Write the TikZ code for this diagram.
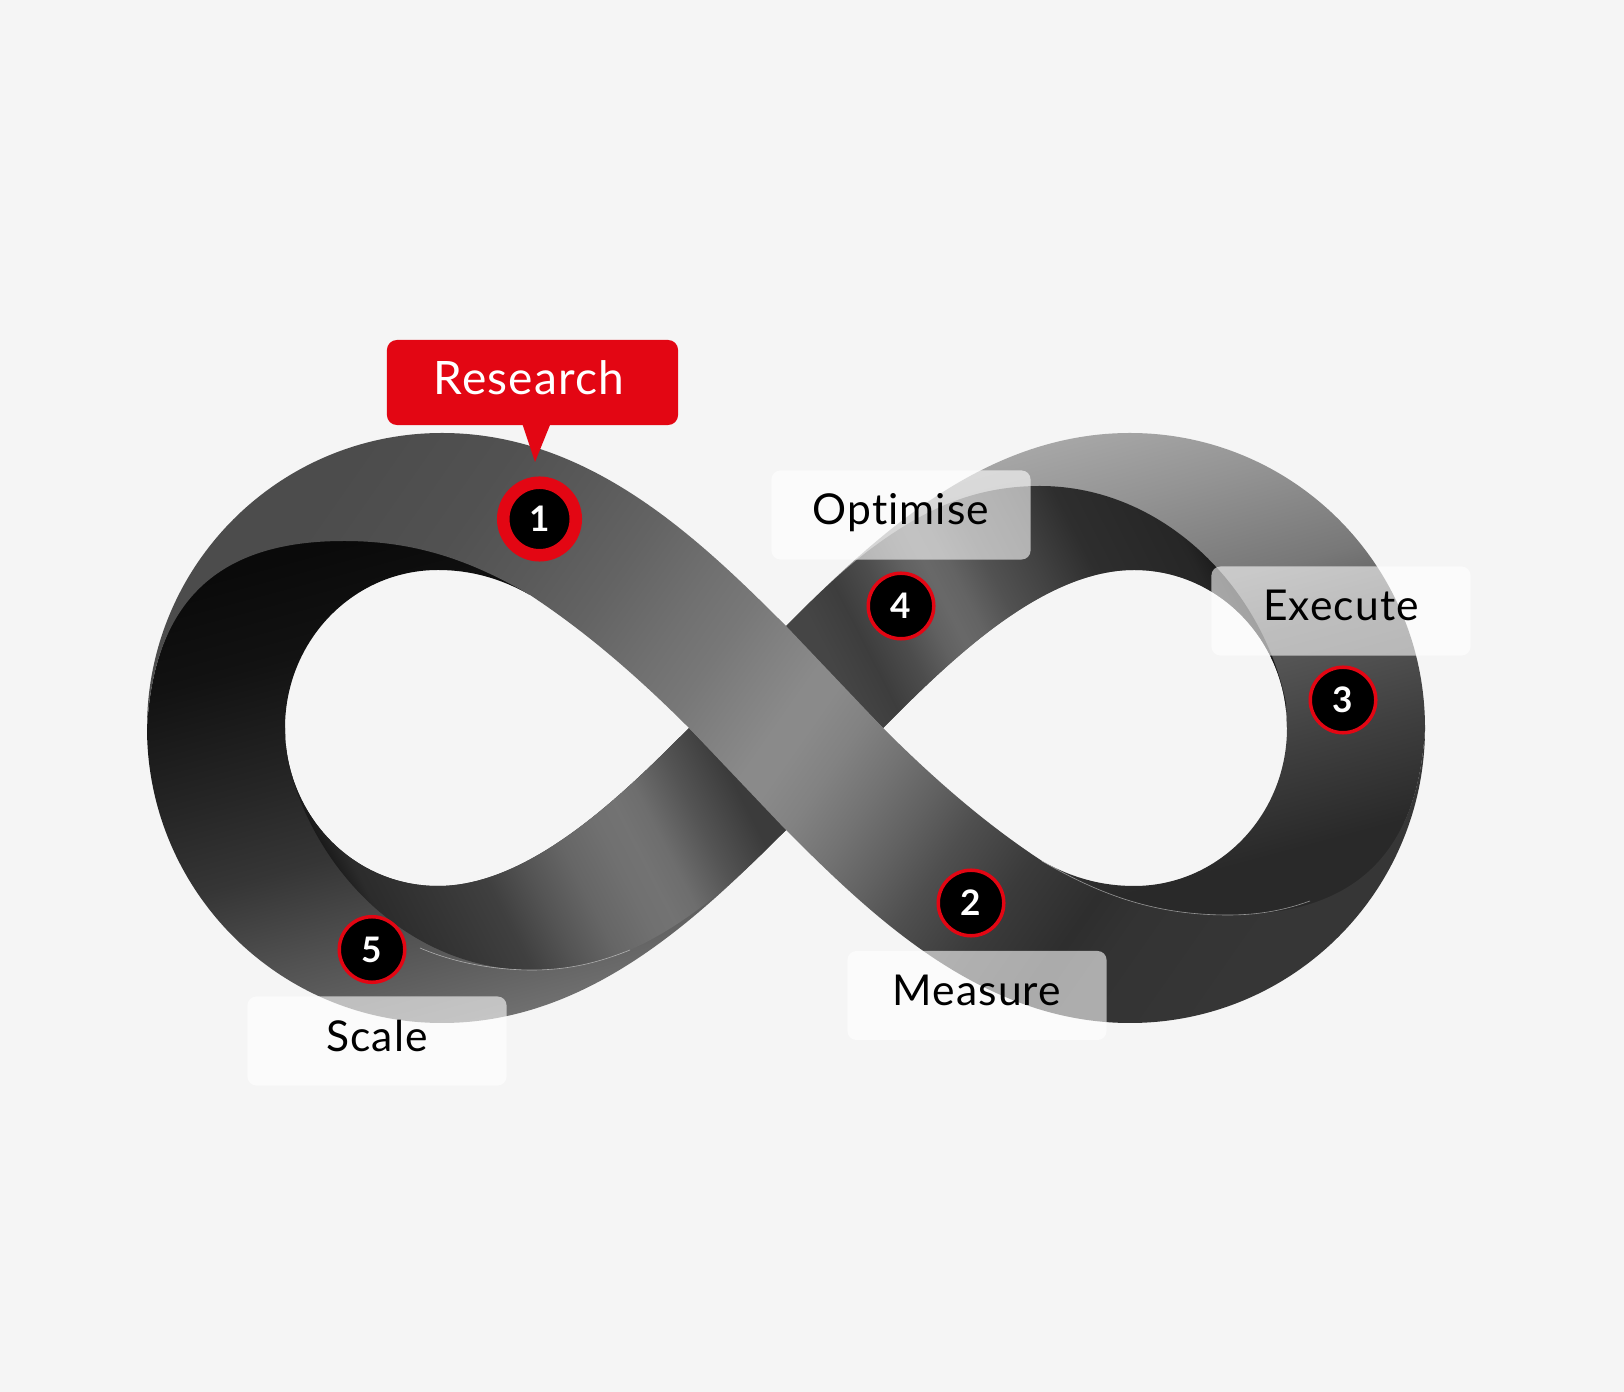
\documentclass[tikz,border=0pt]{standalone}
\usepackage{fontspec}
\setmainfont[LetterSpace=2.5,Ligatures=NoCommon]{Lato}
\usepackage{tikz}
\usetikzlibrary{positioning}
\definecolor{pagegrey}{HTML}{F5F5F5}
\definecolor{researchred}{HTML}{E30613}
\pgfdeclareverticalshading{leftback}{100bp}{color(0bp)=(black!54); color(25bp)=(black!54); color(30bp)=(black!60); color(37bp)=(black!68); color(46bp)=(black!79); color(54bp)=(black!85); color(66bp)=(black!93); color(75bp)=(black!96); color(100bp)=(black!96)}
\pgfdeclareverticalshading{rightback}{100bp}{color(0bp)=(black!84); color(29bp)=(black!84); color(39bp)=(black!75); color(50bp)=(black!64); color(56bp)=(black!53); color(66bp)=(black!42); color(75bp)=(black!33); color(100bp)=(black!33)}
\pgfdeclarehorizontalshading{leftfront}{100bp}{color(0bp)=(black!96); color(25bp)=(black!96); color(29.5bp)=(black!83); color(36.5bp)=(black!79); color(43bp)=(black!75); color(48bp)=(black!67); color(53bp)=(black!60); color(58bp)=(black!56); color(61bp)=(black!55); color(64bp)=(black!57); color(69bp)=(black!67); color(75bp)=(black!77); color(100bp)=(black!77)}
\pgfdeclarehorizontalshading{rightfront}{100bp}{color(0bp)=(black!73); color(25bp)=(black!73); color(29.5bp)=(black!76); color(34bp)=(black!70); color(38bp)=(black!62); color(40.5bp)=(black!59); color(43bp)=(black!61); color(47bp)=(black!68); color(52.4bp)=(black!74); color(58.4bp)=(black!82); color(69.3bp)=(black!85); color(74bp)=(black!93); color(75bp)=(black); color(100bp)=(black)}
\pgfdeclarehorizontalshading{mainband}{100bp}{color(0bp)=(black!70); color(25bp)=(black!70); color(31bp)=(black!68); color(34.7bp)=(black!65); color(38.6bp)=(black!61); color(42.4bp)=(black!56); color(45bp)=(black!53); color(47.5bp)=(black!49); color(49.5bp)=(black!46); color(51bp)=(black!46); color(53bp)=(black!49); color(55.5bp)=(black!55); color(58bp)=(black!62); color(60.3bp)=(black!69); color(63.9bp)=(black!77); color(67.7bp)=(black!82); color(70bp)=(black!80); color(75bp)=(black!79); color(100bp)=(black!79)}
\begin{document}
\begin{tikzpicture}[
		x=0.01cm,
		y=-0.01cm,
		labelbox/.style={
				fill=white,
				fill opacity=0.6,
				text opacity=1,
				rounded corners=0.09cm,
				minimum width=2.59cm,
				minimum height=0.89cm,
				inner sep=0pt,
				text height=0.31cm,
				text depth=0.11cm,
				font=\fontsize{12.1pt}{14pt}\selectfont
			},
		stepdot/.style={
				circle,
				draw=researchred,
				fill=black,
				text=white,
				line width=0.035cm,
				minimum size=0.655cm,
				inner sep=0pt,
				font=\fontsize{10pt}{12pt}\selectfont\bfseries
			},
		hairline/.style={white, opacity=0.5, line width=0.006cm}
	]
	\fill[pagegrey] (0,0) rectangle (1624,1392);
	\useasboundingbox (0,0) rectangle (1624,1392);

	\shade[shading=leftback, shading angle=15] (147,728) .. controls (147,891) and (279,1023) .. (442,1023) .. controls (590,1023) and (700,916) .. (787,829) -- (689,728) .. controls (627,790) and (532,886) .. (438,886) .. controls (353,886) and (285,815) .. (285,728) .. controls (285,641) and (353,570) .. (438,570) .. controls (470,570) and (500,578) .. (530,595) .. controls (470,555) and (415,536) .. (344,536) .. controls (235,536) and (155,585) .. (147,728) -- cycle;
	\shade[shading=rightback, shading angle=15] (1425,728) .. controls (1425,565) and (1293,433) .. (1130,433) .. controls (982,433) and (872,540) .. (785,627) -- (883,728) .. controls (945,666) and (1040,570) .. (1134,570) .. controls (1219,570) and (1287,641) .. (1287,728) .. controls (1287,815) and (1219,886) .. (1134,886) .. controls (1102,886) and (1072,878) .. (1042,861) .. controls (1102,901) and (1157,920) .. (1228,920) .. controls (1337,920) and (1417,871) .. (1425,728) -- cycle;

	\shade[shading=leftfront, shading angle=27] (286,753) .. controls (310,870) and (410,970) .. (532,970) .. controls (600,970) and (650,945) .. (700,908) .. controls (732,884) and (760,856) .. (787,829) -- (689,728) .. controls (627,790) and (532,886) .. (438,886) .. controls (353,886) and (285,815) .. (285,728) -- cycle;
	\shade[shading=rightfront, shading angle=27] (1286,703) .. controls (1262,586) and (1162,486) .. (1040,486) .. controls (972,486) and (922,511) .. (872,548) .. controls (840,572) and (812,600) .. (785,627) -- (883,728) .. controls (945,666) and (1040,570) .. (1134,570) .. controls (1219,570) and (1287,641) .. (1287,728) -- cycle;

	\shade[shading=mainband, shading angle=-35] (147,728) .. controls (147,565) and (279,433) .. (442,433) .. controls (590,433) and (700,540) .. (787,627) -- (883,728) .. controls (945,790) and (995,830) .. (1042,861) .. controls (1102,896) and (1157,915) .. (1228,915) .. controls (1337,915) and (1417,871) .. (1425,728) .. controls (1425,891) and (1293,1023) .. (1130,1023) .. controls (982,1023) and (872,916) .. (785,829) -- (689,728) .. controls (627,666) and (577,626) .. (530,595) .. controls (470,560) and (415,541) .. (344,541) .. controls (235,541) and (155,585) .. (147,728) -- cycle;

	\draw[hairline] (420,948) .. controls (455,963) and (495,970) .. (532,970) .. controls (570,970) and (600,962) .. (630,950);
	\draw[hairline] (1042,861) .. controls (1102,896) and (1157,915) .. (1228,915) .. controls (1260,915) and (1285,910) .. (1310,901);

	\node[labelbox] (optimise) at (901,515) {Optimise};
	\node[labelbox] (execute) at (1341,611) {Execute};
	\node[labelbox] (measure) at (977,995.5) {Measure};
	\node[labelbox] (scale) at (377,1041) {Scale};

	\coordinate (pointertip) at (535,462);
	\fill[researchred] (521,420) -- (pointertip) -- (552,420) -- cycle;
	\node[fill=researchred, text=white, rounded corners=0.1cm, minimum width=2.91cm, minimum height=0.85cm, inner sep=0pt, text height=0.33cm, text depth=0.08cm, font=\fontsize{13.1pt}{15pt}\selectfont] (research) at (532.5,382.5) {Research\kern0.07cm};

	\node[stepdot, line width=0.125cm, minimum size=0.725cm] (dot1) at (539.5,519) {1};
	\foreach \n/\x/\y in {2/971/903, 3/1343/700, 4/901/606, 5/372/949.5}
		\node[stepdot] (dot\n) at (\x,\y) {\n};
\end{tikzpicture}
\end{document}
